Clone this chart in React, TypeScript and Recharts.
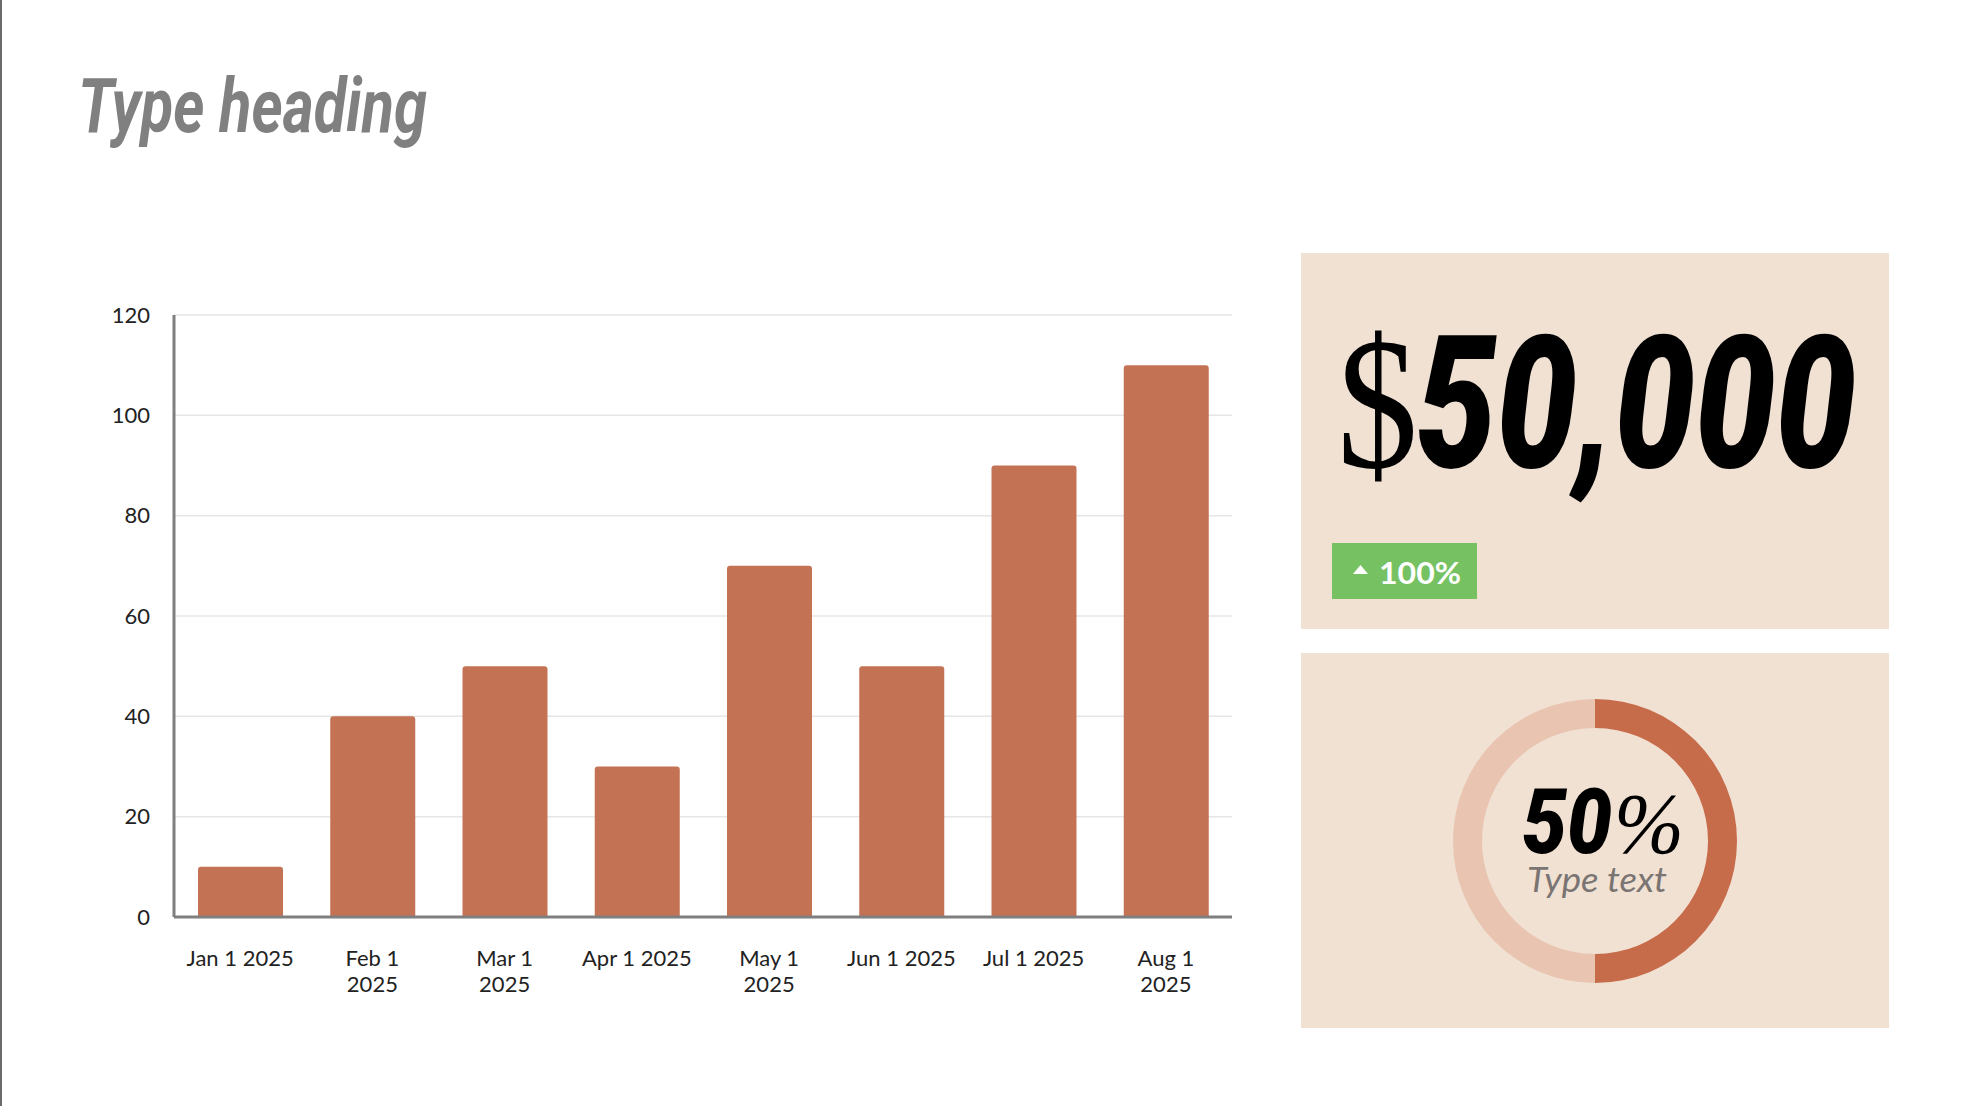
import React from 'react';
import { BarChart, Bar, XAxis, YAxis, CartesianGrid, PieChart, Pie, Cell } from 'recharts';

const months = [
    'Jan 1 2025',
    'Feb 1\n2025',
    'Mar 1\n2025',
    'Apr 1 2025',
    'May 1\n2025',
    'Jun 1 2025',
    'Jul 1 2025',
    'Aug 1\n2025',
];
const values = [10, 40, 50, 30, 70, 50, 90, 110];
const yTicks = [0, 20, 40, 60, 80, 100, 120];

const donutNames = ['done', 'rest'];
const donutValues = [50, 50];
const donutColors = ['#C76C4B', '#E8C4B1'];

const headingText = 'Type heading';
const bigCurrency = '$';
const bigNumber = '50,000';
const changeText = '100%';
const donutNumber = '50';
const donutSymbol = '%';
const donutCaption = 'Type text';

const chartData = months.map((m, i) => ({ month: m, value: values[i] }));
const pieData = donutNames.map((n, i) => ({ name: n, value: donutValues[i] }));

const BAR = '#C47254';
const PANEL = '#F1E1D3';
const CONDENSED = "'Liberation Sans Narrow', 'Roboto', 'DejaVu Sans', sans-serif";
const SERIF = "'Liberation Serif', 'DejaVu Serif', serif";
const SANS = "Lato, 'Open Sans', sans-serif";

const XTick = (props: any) => {
    const { x, y, payload } = props;
    const lines = String(payload.value).split('\n');
    return (
        <g transform={`translate(${x},${y})`}>
            <text textAnchor="middle" fill="#222" fontSize={22} fontFamily={SANS}>
                {lines.map((l, i) => (
                    <tspan key={i} x={0} y={47 + i * 26}>{l}</tspan>
                ))}
            </text>
        </g>
    );
};

export default function App() {
    return (
        <div style={{ position: 'relative', width: 1968, height: 1106, background: '#fff', overflow: 'hidden' }}>
            <style>{'body{margin:0}'}</style>
            <div style={{ position: 'absolute', left: 0, top: 0, width: 2, height: 1106, background: '#6b6b6b' }} />

            {/* panels */}
            <div style={{ position: 'absolute', left: 1301, top: 253, width: 588, height: 376, background: PANEL }} />
            <div style={{ position: 'absolute', left: 1301, top: 653, width: 588, height: 375, background: PANEL }} />
            <div style={{ position: 'absolute', left: 1332, top: 543, width: 145, height: 56, background: '#76C263' }} />

            <div style={{ position: 'absolute', left: 60, top: 280 }}>
                <BarChart width={1200} height={760} data={chartData} margin={{ top: 35, right: 28, left: 0, bottom: 22 }}>
                    <CartesianGrid vertical={false} stroke="#e6e6e6" strokeWidth={1.5} />
                    <XAxis
                        dataKey="month"
                        interval={0}
                        height={101}
                        tickLine={false}
                        tickSize={0}
                        tick={<XTick />}
                        axisLine={{ stroke: '#7f7f7f', strokeWidth: 3 }}
                    />
                    <YAxis
                        width={114}
                        domain={[0, 120]}
                        ticks={yTicks}
                        tickLine={false}
                        tickSize={0}
                        tickMargin={24}
                        tick={{ fill: '#222', fontSize: 22, fontFamily: SANS }}
                        axisLine={{ stroke: '#7f7f7f', strokeWidth: 3 }}
                    />
                    <Bar dataKey="value" fill={BAR} barSize={85} radius={[3, 3, 0, 0]} isAnimationActive={false} />
                </BarChart>
            </div>

            <div style={{ position: 'absolute', left: 1445, top: 691 }}>
                <PieChart width={300} height={300} margin={{ top: 0, right: 0, bottom: 0, left: 0 }}>
                    <Pie
                        data={pieData}
                        dataKey="value"
                        cx={150}
                        cy={150}
                        innerRadius={113}
                        outerRadius={142}
                        startAngle={90}
                        endAngle={-270}
                        stroke="none"
                        isAnimationActive={false}
                    >
                        {pieData.map((d, i) => (
                            <Cell key={d.name} fill={donutColors[i]} />
                        ))}
                    </Pie>
                </PieChart>
            </div>

            <svg width={1968} height={1106} style={{ position: 'absolute', left: 0, top: 0, pointerEvents: 'none' }}>
                <text x={78} y={132} fontSize={76} fontWeight={700} fontStyle="italic" fontFamily={CONDENSED}
                    fill="#808080" textLength={349} lengthAdjust="spacingAndGlyphs">{headingText}</text>

                <text x={1337} y={467} fontSize={188} fontFamily={SERIF} fill="#000"
                    textLength={81} lengthAdjust="spacingAndGlyphs">{bigCurrency}</text>
                <text x={1416} y={467} fontSize={186} fontWeight={900} fontStyle="italic" fontFamily={CONDENSED}
                    fill="#000" textLength={440} lengthAdjust="spacingAndGlyphs">{bigNumber}</text>

                <polygon points="1353,574 1368,574 1360.5,565" fill="#fff" />
                <text x={1379} y={584} fontSize={31} fontWeight={700} fontFamily={SANS} fill="#fff"
                    textLength={82} lengthAdjust="spacingAndGlyphs">{changeText}</text>

                <text x={1522} y={853} fontSize={90} fontWeight={900} fontStyle="italic" fontFamily={CONDENSED}
                    fill="#000" textLength={90} lengthAdjust="spacingAndGlyphs">{donutNumber}</text>
                <text x={1614} y={853} fontSize={86} fontStyle="italic" fontFamily={SERIF}
                    fill="#000" textLength={70} lengthAdjust="spacingAndGlyphs">{donutSymbol}</text>
                <text x={1527} y={892} fontSize={34} fontStyle="italic" fontFamily={SANS}
                    fill="#7a7472" textLength={140} lengthAdjust="spacingAndGlyphs">{donutCaption}</text>
            </svg>
        </div>
    );
}
